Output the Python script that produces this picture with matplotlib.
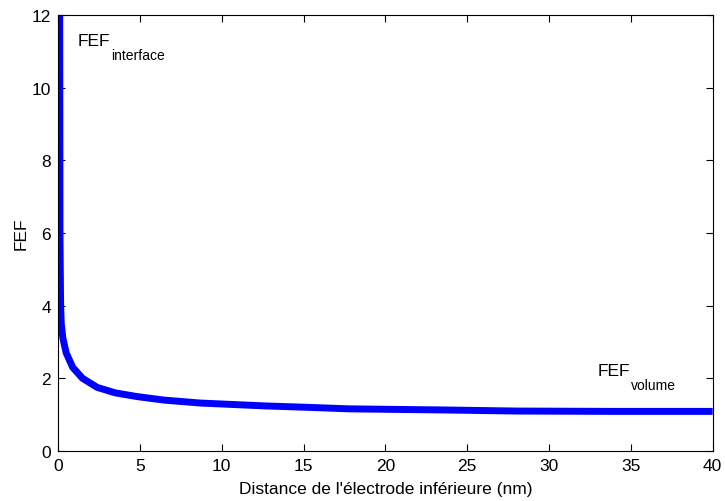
import matplotlib
matplotlib.use("Agg")
import matplotlib.pyplot as plt
from matplotlib.transforms import offset_copy

plt.rcParams['font.family'] = ['Liberation Sans', 'DejaVu Sans']

# distance (nm) et FEF
distance = [0.1, 0.12, 0.16, 0.2, 0.3, 0.5, 0.7, 0.9, 1.2, 1.5, 2.4, 3.5,
            4.8, 6.5, 8.7, 12.7, 15.4, 17.8, 23.5, 28, 34, 40]
fef = [13.0, 6.0, 4.0, 3.5, 3.1, 2.7, 2.5, 2.3, 2.15, 2.0, 1.75, 1.6,
       1.5, 1.4, 1.32, 1.24, 1.2, 1.16, 1.13, 1.10, 1.09, 1.09]

fig = plt.figure(figsize=(7.25, 5.02), dpi=100)
ax = fig.add_axes([0.080, 0.0996, 0.903, 0.8685])

ax.plot(distance, fef, color='blue', linewidth=5, solid_capstyle='butt')

ax.set_xlim(0, 40)
ax.set_ylim(0, 12)
ax.set_xticks(range(0, 41, 5))
ax.set_yticks(range(0, 13, 2))
ax.tick_params(direction='in', top=True, right=True, labelsize=12.5, length=5, pad=5)
ax.set_xlabel("Distance de l'électrode inférieure (nm)", fontsize=12.5, labelpad=6)
ax.set_ylabel('FEF', fontsize=12.5, labelpad=2)

# annotations FEF avec indice
for x, y, sub in [(1.2, 11.3, 'interface'), (33.0, 2.22, 'volume')]:
    ax.text(x, y, 'FEF', fontsize=12.5, va='center')
    tr = offset_copy(ax.transData, fig=fig, x=33, y=-15, units='dots')
    ax.text(x, y, sub, fontsize=10, va='center', transform=tr)

fig.savefig('out.png', dpi=100)
